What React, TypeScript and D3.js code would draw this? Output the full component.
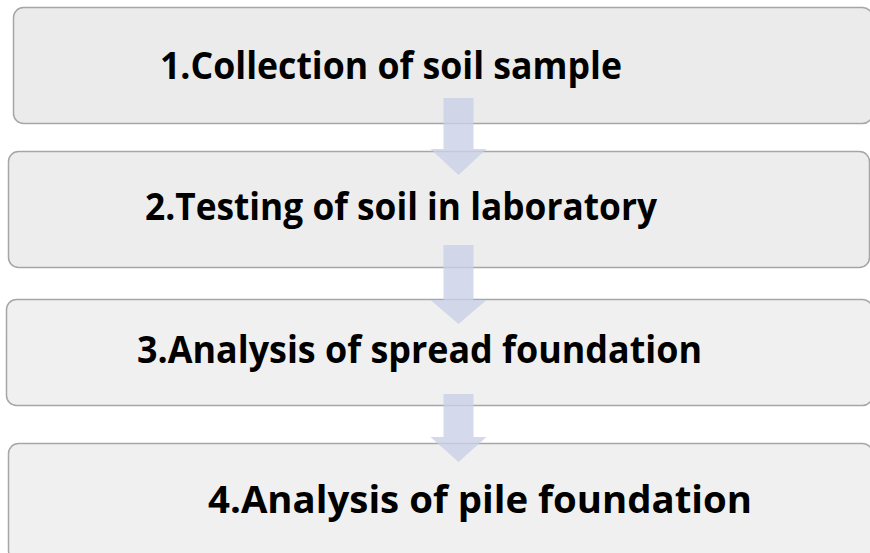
import React, { useEffect, useRef } from "react";
import * as d3 from "d3";

const steps = [
  "1.Collection of soil sample",
  "2.Testing of soil in laboratory",
  "3.Analysis of spread foundation",
  "4.Analysis of pile foundation",
];

// layout (pixels)
const boxLeft = [13, 8, 6, 8];
const boxTop = [7, 151, 299, 443];
const boxBottom = [123, 267, 405, 560];
const boxRight = [872, 869, 872, 872];
const boxFill = ["#ebebeb", "#ededed", "#f0f0f0", "#f0f0f0"];
const textX = [160, 145, 137, 208];
const textBase = [79, 220, 363, 513];
const textLen = [462, 512, 565, 544];
const arrowTop = [98, 245, 394];
const arrowNeck = [149, 300, 437];
const arrowTip = [175, 324, 462];

export default function App() {
  const ref = useRef<SVGSVGElement | null>(null);
  useEffect(() => {
    const svg = d3.select(ref.current);
    svg.selectAll("*").remove();
    const boxes = svg
      .selectAll("g.box")
      .data(steps)
      .join("g")
      .attr("class", "box");
    boxes
      .append("rect")
      .attr("x", (_, i) => boxLeft[i] + 0.5)
      .attr("y", (_, i) => boxTop[i] + 0.5)
      .attr("width", (_, i) => boxRight[i] - boxLeft[i])
      .attr("height", (_, i) => boxBottom[i] - boxTop[i])
      .attr("rx", 10)
      .attr("fill", (_, i) => boxFill[i])
      .attr("stroke", "#a6a6a6")
      .attr("stroke-width", 1.5);
    boxes
      .append("text")
      .attr("x", (_, i) => textX[i])
      .attr("y", (_, i) => textBase[i])
      .attr("textLength", (_, i) => textLen[i])
      .attr("lengthAdjust", "spacingAndGlyphs")
      .attr("font-family", "'Open Sans', 'Noto Sans', sans-serif")
      .attr("font-weight", 700)
      .attr("font-size", 37)
      .attr("fill", "#000")
      .text((d) => d);

    const cx = 458.5;
    const shaftW = 30;
    const headW = 56;
    const line = d3.line<[number, number]>();
    svg
      .selectAll("path.arrow")
      .data(arrowTop)
      .join("path")
      .attr("class", "arrow")
      .attr("d", (t, i) =>
        line([
          [cx - shaftW / 2, t],
          [cx + shaftW / 2, t],
          [cx + shaftW / 2, arrowNeck[i]],
          [cx + headW / 2, arrowNeck[i]],
          [cx, arrowTip[i]],
          [cx - headW / 2, arrowNeck[i]],
          [cx - shaftW / 2, arrowNeck[i]],
        ]) + "Z"
      )
      .attr("fill", "#c9cfe6")
      .attr("opacity", 0.8);
  }, []);
  return (
    <svg
      ref={ref}
      width={870}
      height={553}
      style={{ position: "absolute", left: 0, top: 0, background: "#fff" }}
    />
  );
}
